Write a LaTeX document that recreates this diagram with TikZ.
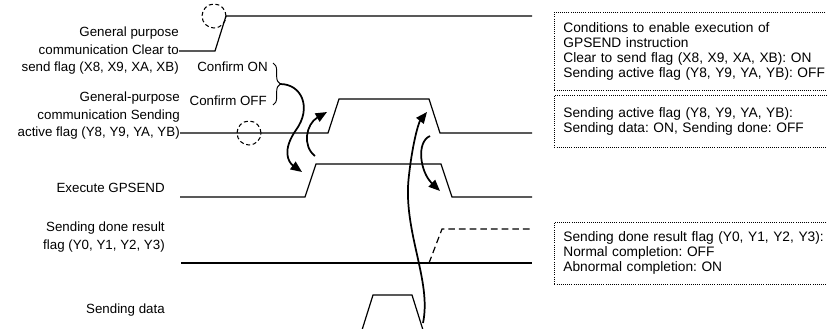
\documentclass[tikz,border=0pt]{standalone}
\usepackage{fontspec}
\setmainfont{Liberation Sans}
\usepackage{tikz}
\usetikzlibrary{arrows.meta, positioning, decorations.pathreplacing}
\frenchspacing
\tikzstyle{sig} = [line width=0.9pt]
\tikzstyle{siglabel} = [anchor=east, align=right, inner sep=0pt, font=\fontsize{10}{13.1}\selectfont]
\tikzstyle{confirm} = [anchor=east, inner sep=0pt, font=\fontsize{10}{12}\selectfont]
\tikzstyle{note} = [rectangle, draw, densely dotted, line width=0.6pt, anchor=west, align=left, text width=210pt, inner xsep=6.75pt, font=\fontsize{10.3}{11.25}\selectfont]
\tikzstyle{spot} = [circle, draw, dashed, dash pattern=on 3pt off 2pt, line width=0.8pt, minimum size=18pt, inner sep=0pt]
\tikzstyle{flow} = [-{Triangle[length=8.5pt,width=7pt]}, line width=1.3pt]

\begin{document}
\begin{tikzpicture}[x=0.75pt, y=-0.75pt]
    \useasboundingbox (0,0) rectangle (827,328);
    \clip (0,0) rectangle (827,328);

    % === SIGNAL NAMES ===
    \node[siglabel] (cts) at (179,51) {General purpose\\communication Clear to\\send flag (X8, X9, XA, XB)};
    \node[siglabel] (active) at (180,116) {General-purpose\\communication Sending\\active flag (Y8, Y9, YA, YB)};
    \node[siglabel] (exec) at (165,188) {Execute GPSEND};
    \node[siglabel] (done) at (165,237) {Sending done result\\flag (Y0, Y1, Y2, Y3)};
    \node[siglabel] (data) at (165,310) {Sending data};

    % === CONFIRM LABELS + BRACE ===
    \node[confirm] (conon) at (268,67) {Confirm ON};
    \node[confirm] (conoff) at (267,101) {Confirm OFF};
    \coordinate (brtop) at (273,63);
    \coordinate (brbot) at (273,105);
    \coordinate (brtip) at (280,84);
    \draw[decorate, decoration={brace, amplitude=5.5pt}, line width=0.7pt] (brtop) -- (brbot);

    % === WAVEFORMS ===
    \draw[sig] (cts.east) -- (215,51) -- (226,16) -- (532,16);
    \draw[sig] (180,133) -- (328,133) -- (339,99) -- (429,99) -- (440,133) -- (532,133);
    \draw[sig] (180,197) -- (305,197) -- (316,164) -- (441,164) -- (452,197) -- (532,197);
    \draw[sig] (181,263) -- (532,263);
    \draw[sig, dashed, dash pattern=on 5pt off 3pt] (429,263) -- (442,229) -- (532,229);
    \draw[sig] (362,330) -- (373,295) -- (412,295) -- (423,330);

    % dashed check marks
    \node[spot] (chk1) at (214,16) {};
    \node[spot] (chk2) at (249,133) {};

    % === NOTES (right column) ===
    \node[note, minimum height=58.5pt] (cond) at (554,51) {Conditions to enable execution of\\GPSEND instruction\\Clear to send flag (X8, X9, XA, XB): ON\\Sending active flag (Y8, Y9, YA, YB): OFF};
    \node[note, minimum height=39pt] (actnote) at (554,121) {Sending active flag (Y8, Y9, YA, YB):\\Sending data: ON, Sending done: OFF};
    \node[note, minimum height=46.5pt] (donenote) at (554,253) {Sending done result flag (Y0, Y1, Y2, Y3):\\Normal completion: OFF\\Abnormal completion: ON};

    % === FLOW ARROWS ===
    \coordinate (execup) at (302,172);
    \coordinate (execfoot) at (315,156);
    \coordinate (actrise) at (327,112);
    \coordinate (datafoot) at (423,323);
    \coordinate (actfall) at (427,112);
    \coordinate (actdown) at (430,136);
    \coordinate (execfall) at (440,191);
    \draw[flow] (brtip) .. controls (302,84) and (312,108) .. (296,130) .. controls (282,150) and (288,162) .. (execup);
    \draw[flow] (execfoot) .. controls (302,146) and (306,124) .. (actrise);
    \draw[flow] (datafoot) .. controls (432,280) and (402,230) .. (409,175) .. controls (413,140) and (419,122) .. (actfall);
    \draw[flow] (actdown) .. controls (416,142) and (420,172) .. (execfall);
\end{tikzpicture}
\end{document}
